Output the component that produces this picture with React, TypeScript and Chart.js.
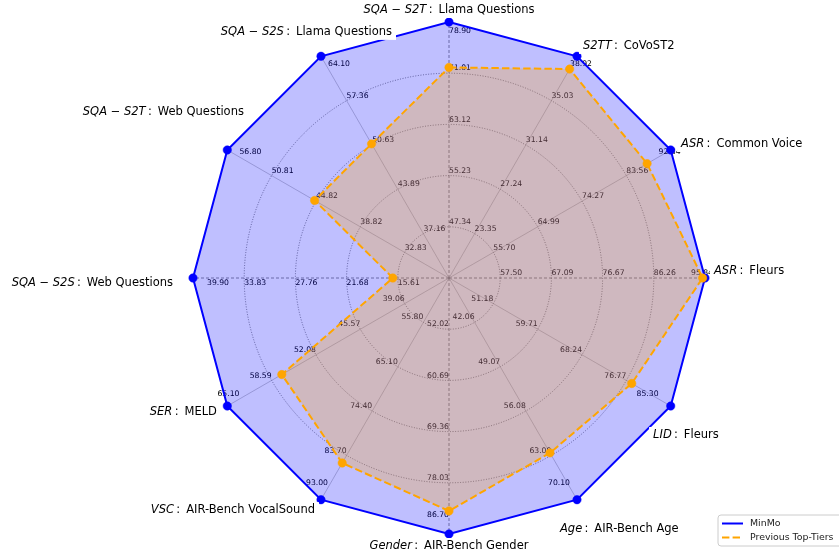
import React, { useEffect, useRef } from 'react';
import { Chart, registerables } from 'chart.js';

Chart.register(...registerables);

// ---------- data ----------
const CATEGORIES = [
  'SQA−S2T: Llama Questions',
  'S2TT: CoVoST2',
  'ASR: Common Voice',
  'ASR: Fleurs',
  'LID: Fleurs',
  'Age: AIR-Bench Age',
  'Gender: AIR-Bench Gender',
  'VSC: AIR-Bench VocalSound',
  'SER: MELD',
  'SQA−S2S: Web Questions',
  'SQA−S2T: Web Questions',
  'SQA−S2S: Llama Questions',
];

const MINMO = [78.9, 38.92, 92.84, 95.84, 85.3, 70.1, 86.7, 93.0, 65.1, 39.9, 56.8, 64.1];
const PREVIOUS_TOP_TIERS = [71.9, 37.8, 87.9, 95.4, 77.8, 62.7, 82.8, 85.3, 57.1, 16.2, 45.0, 50.8];

const TICKS_SQA_S2T_LLAMA = [47.34, 55.23, 63.12, 71.01, 78.9];
const TICKS_S2TT_COVOST2 = [23.35, 27.24, 31.14, 35.03, 38.92];
const TICKS_ASR_COMMON_VOICE = [55.7, 64.99, 74.27, 83.56, 92.84];
const TICKS_ASR_FLEURS = [57.5, 67.09, 76.67, 86.26, 95.84];
const TICKS_LID_FLEURS = [51.18, 59.71, 68.24, 76.77, 85.3];
const TICKS_AGE = [42.06, 49.07, 56.08, 63.09, 70.1];
const TICKS_GENDER = [52.02, 60.69, 69.36, 78.03, 86.7];
const TICKS_VSC = [55.8, 65.1, 74.4, 83.7, 93.0];
const TICKS_SER = [39.06, 45.57, 52.08, 58.59, 65.1];
const TICKS_SQA_S2S_WEB = [15.61, 21.68, 27.76, 33.83, 39.9];
const TICKS_SQA_S2T_WEB = [32.83, 38.82, 44.82, 50.81, 56.8];
const TICKS_SQA_S2S_LLAMA = [37.16, 43.89, 50.63, 57.36, 64.1];

const AXIS_TICKS = [
  TICKS_SQA_S2T_LLAMA, TICKS_S2TT_COVOST2, TICKS_ASR_COMMON_VOICE, TICKS_ASR_FLEURS,
  TICKS_LID_FLEURS, TICKS_AGE, TICKS_GENDER, TICKS_VSC, TICKS_SER,
  TICKS_SQA_S2S_WEB, TICKS_SQA_S2T_WEB, TICKS_SQA_S2S_LLAMA,
];

const SERIES_NAMES = ['MinMo', 'Previous Top-Tiers'];

// ---------- helpers ----------
const AXIS_RANGES = AXIS_TICKS.map((t) => {
  const step = (t[4] - t[0]) / 4;
  return { lo: t[0] - step, hi: t[4] };
});
const normalize = (vals: number[]) =>
  vals.map((v, i) => (v - AXIS_RANGES[i].lo) / (AXIS_RANGES[i].hi - AXIS_RANGES[i].lo));

const FONT = '"DejaVu Sans", "Liberation Sans", sans-serif';
const TITLE_SIZE = 11.5;
const TICK_SIZE = 7.7;
const LEGEND_SIZE = 9.4;
const TITLE_PAD = 12;
const TITLE_NUDGE: Record<number, [number, number]> = {
  3: [-3, -7],
  4: [-28, 23],
  5: [-23, 19],
  9: [-8, 5],
  10: [27, -32],
  11: [77, -14],
};

const tickLabelPlugin = {
  id: 'axisTickLabels',
  beforeDatasetsDraw(chart: any) {
    const r = chart.scales.r;
    const ctx = chart.ctx;
    ctx.save();
    ctx.font = `${TICK_SIZE}px ${FONT}`;
    ctx.fillStyle = '#000000';
    AXIS_TICKS.forEach((ticks, i) => {
      const deg = ((r.getIndexAngle(i) * 180) / Math.PI + 360) % 360;
      const rightSide = deg > 91 && deg < 269;
      const below = Math.abs(deg - 270) < 1;
      ctx.textAlign = rightSide ? 'right' : 'left';
      ctx.textBaseline = below ? 'top' : 'bottom';
      ticks.forEach((t, k) => {
        let dist = r.getDistanceFromCenterForValue((k + 1) / 5);
        if (k === ticks.length - 1) dist -= 14;
        const p = r.getPointPosition(i, dist);
        ctx.fillText(t.toFixed(2), p.x, p.y + (below ? 1 : -1));
      });
    });
    ctx.restore();
  },
};

const titlePlugin = {
  id: 'axisTitles',
  afterDraw(chart: any) {
    const r = chart.scales.r;
    const ctx = chart.ctx;
    ctx.save();
    CATEGORIES.forEach((label, i) => {
      const idx = label.indexOf(': ');
      const head = label.slice(0, idx).replace('−', ' − ');
      const tail = '\u2009:\u2009 ' + label.slice(idx + 2);
      ctx.font = `italic ${TITLE_SIZE}px ${FONT}`;
      const wI = ctx.measureText(head).width;
      ctx.font = `${TITLE_SIZE}px ${FONT}`;
      const wR = ctx.measureText(tail).width;
      const w = wI + wR;
      const a = r.getIndexAngle(i);
      const s = Math.sin(a);
      const p = r.getPointPosition(i, r.drawingArea + TITLE_PAD);
      const nudge = TITLE_NUDGE[i] || [0, 0];
      let x0: number;
      if (Math.abs(s) < 0.01) x0 = p.x - w / 2;
      else if (s > 0) x0 = p.x;
      else x0 = p.x - w;
      x0 += nudge[0];
      const cy = p.y + nudge[1];
      ctx.fillStyle = '#ffffff';
      ctx.fillRect(x0 - 4, cy - 8, w + 8, 16);
      ctx.fillStyle = '#000000';
      ctx.textAlign = 'left';
      ctx.textBaseline = 'middle';
      ctx.font = `italic ${TITLE_SIZE}px ${FONT}`;
      ctx.fillText(head, x0, cy);
      ctx.font = `${TITLE_SIZE}px ${FONT}`;
      ctx.fillText(tail, x0 + wI, cy);
    });
    ctx.restore();
  },
};

const legendPlugin = {
  id: 'cornerLegend',
  afterDraw(chart: any) {
    const ctx = chart.ctx;
    const x = 718, y = 515, w = 126, h = 31, rad = 3;
    ctx.save();
    ctx.beginPath();
    ctx.moveTo(x + rad, y);
    ctx.lineTo(x + w - rad, y);
    ctx.quadraticCurveTo(x + w, y, x + w, y + rad);
    ctx.lineTo(x + w, y + h - rad);
    ctx.quadraticCurveTo(x + w, y + h, x + w - rad, y + h);
    ctx.lineTo(x + rad, y + h);
    ctx.quadraticCurveTo(x, y + h, x, y + h - rad);
    ctx.lineTo(x, y + rad);
    ctx.quadraticCurveTo(x, y, x + rad, y);
    ctx.closePath();
    ctx.fillStyle = 'rgba(255,255,255,0.8)';
    ctx.fill();
    ctx.strokeStyle = '#cccccc';
    ctx.lineWidth = 1;
    ctx.stroke();
    const ds = chart.data.datasets;
    const rows = [ds[1], ds[0]];
    rows.forEach((d: any, k: number) => {
      const ly = y + 8.5 + k * 14;
      ctx.beginPath();
      ctx.strokeStyle = d.borderColor;
      ctx.lineWidth = 2;
      ctx.setLineDash(d.borderDash || []);
      ctx.moveTo(x + 4, ly);
      ctx.lineTo(x + 25, ly);
      ctx.stroke();
      ctx.setLineDash([]);
      ctx.fillStyle = '#222222';
      ctx.font = `${LEGEND_SIZE}px ${FONT}`;
      ctx.textAlign = 'left';
      ctx.textBaseline = 'middle';
      ctx.fillText(d.label, x + 32, ly);
    });
    ctx.restore();
  },
};

export default function App() {
  const ref = useRef<HTMLCanvasElement | null>(null);
  useEffect(() => {
    document.body.style.margin = '0';
    const cardinal = (i: number) => i % 3 === 0;
    const chart = new Chart(ref.current as HTMLCanvasElement, {
      type: 'radar',
      data: {
        labels: CATEGORIES,
        datasets: [
          {
            label: SERIES_NAMES[1],
            data: normalize(PREVIOUS_TOP_TIERS),
            borderColor: '#ffa500',
            backgroundColor: 'rgba(255,165,0,0.25)',
            borderWidth: 2,
            borderDash: [7.4, 3.2],
            pointRadius: 4.2,
            pointBackgroundColor: '#ffa500',
            pointBorderColor: '#ffa500',
            pointBorderWidth: 0.5,
            fill: 'origin',
            order: 1,
            clip: false,
          } as any,
          {
            label: SERIES_NAMES[0],
            data: normalize(MINMO),
            borderColor: '#0000ff',
            backgroundColor: 'rgba(0,0,255,0.25)',
            borderWidth: 2,
            pointRadius: 4.2,
            pointBackgroundColor: '#0000ff',
            pointBorderColor: '#0000ff',
            pointBorderWidth: 0.5,
            fill: 'origin',
            order: 2,
            clip: false,
          } as any,
        ],
      },
      options: {
        animation: false,
        responsive: true,
        maintainAspectRatio: false,
        layout: { padding: { left: 60, right: 1, top: 22, bottom: 24 } },
        elements: { line: { tension: 0 } },
        plugins: {
          legend: { display: false },
          tooltip: { enabled: false },
        },
        scales: {
          r: {
            min: 0,
            max: 1,
            ticks: { display: false, stepSize: 0.2 },
            pointLabels: { display: false },
            grid: {
              circular: true,
              color: (ctx: any) => (ctx.index >= 5 ? 'rgba(0,0,0,0)' : 'rgba(70,70,70,0.85)'),
              lineWidth: 0.8,
            },
            border: { dash: [1, 1.6] },
            angleLines: {
              color: (ctx: any) => (cardinal(ctx.index) ? 'rgba(110,110,110,0.8)' : 'rgba(130,130,130,0.55)'),
              lineWidth: (ctx: any) => (cardinal(ctx.index) ? 1 : 0.8),
              borderDash: (ctx: any) => (cardinal(ctx.index) ? [3, 2] : []),
            },
          } as any,
        },
      },
      plugins: [tickLabelPlugin, titlePlugin, legendPlugin],
    });
    return () => chart.destroy();
  }, []);
  return (
    <div style={{ width: 839, height: 558, position: 'relative' }}>
      <canvas ref={ref} />
    </div>
  );
}
